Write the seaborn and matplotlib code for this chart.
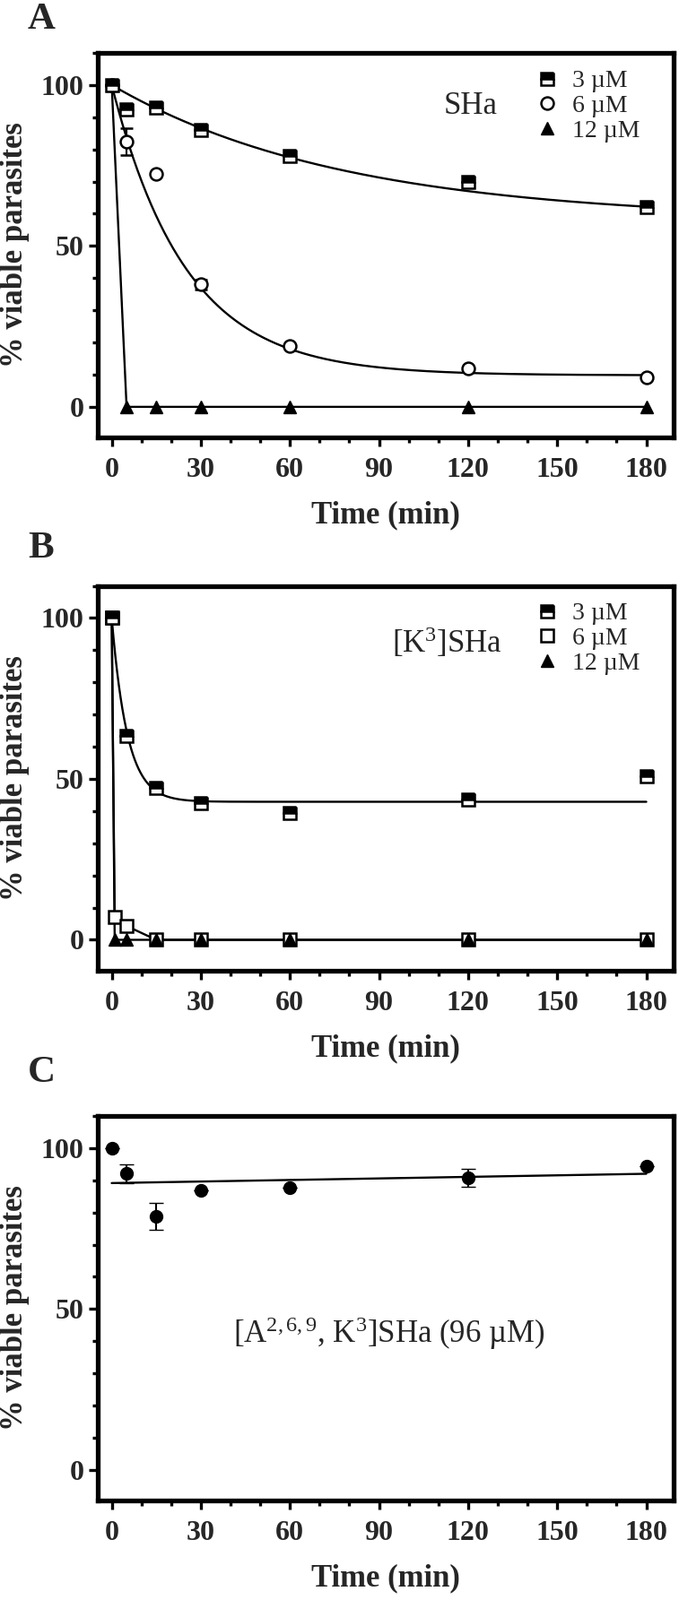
import numpy as np
import pandas as pd
import matplotlib
matplotlib.use('Agg')
import matplotlib.pyplot as plt
import seaborn as sns
from matplotlib.ticker import MultipleLocator, FixedLocator
from matplotlib.lines import Line2D

# ---------------- data ----------------
time_a = [0, 5, 15, 30, 60, 120, 180]
sha_3uM = [100, 92.5, 93, 86, 78, 70, 62]
sha_3uM_err = [0, 1.5, 0, 0, 0, 0, 0]
sha_6uM = [100, 82.5, 72.5, 38, 19, 12, 9.3]
sha_6uM_err = [0, 4.2, 0, 1.6, 0, 0, 0]
sha_12uM = [100, 0, 0, 0, 0, 0, 0]

time_b3 = [0, 5, 15, 30, 60, 120, 180]
k3_3uM = [100, 63.5, 47.3, 42.4, 39.5, 43.5, 50.8]
time_b = [0, 1, 5, 15, 30, 60, 120, 180]
k3_6uM = [100, 7.1, 4.3, 0, 0, 0, 0, 0]
k3_12uM = [100, 0, 0, 0, 0, 0, 0, 0]

time_c = [0, 5, 15, 30, 60, 120, 180]
a269_96uM = [100, 92.1, 78.9, 86.9, 87.6, 90.8, 94.3]
a269_err = [0, 2.9, 4.2, 0, 0, 2.7, 0]

# one-phase decay fits: (plateau, rate constant per min)
fit_sha_3uM = (58.0, 0.0128)
fit_sha_6uM = (9.8, 0.040)
fit_k3_3uM = (42.9, 0.19)

x_ticks = [0, 30, 60, 90, 120, 150, 180]
y_ticks = [0, 50, 100]
legend_labels = ['3 µM', '6 µM', '12 µM']

# ---------------- style ----------------
sns.set_theme(style='ticks')
plt.rcParams['font.family'] = ['Liberation Serif', 'DejaVu Serif']
plt.rcParams['mathtext.fontset'] = 'custom'
plt.rcParams['mathtext.rm'] = 'Liberation Serif'
plt.rcParams['mathtext.it'] = 'Liberation Serif:italic'
plt.rcParams['mathtext.bf'] = 'Liberation Serif:bold'

W, H = 757, 1785
fig = plt.figure(figsize=(W / 100, H / 100), dpi=100)

left = 109 / W
width = (751 - 109) / W
tops = [59, 653.6, 1245]
ax_h = 429 / H
axes = [fig.add_axes([left, 1 - (t + 429) / H, width, ax_h]) for t in tops]

LW_FIT = 1.7
MS = 9.5
MEW = 1.8

half_sq = dict(marker='s', fillstyle='top', markerfacecolor='black',
               markerfacecoloralt='white', markeredgecolor='black',
               markersize=MS, markeredgewidth=MEW)
open_circ = dict(marker='o', markerfacecolor='white', markeredgecolor='black',
                 markersize=MS + 0.5, markeredgewidth=MEW)
open_sq = dict(marker='s', markerfacecolor='white', markeredgecolor='black',
               markersize=MS, markeredgewidth=MEW)
tri = dict(marker='^', markerfacecolor='black', markeredgecolor='black',
           markersize=MS, markeredgewidth=1)
dot = dict(marker='o', markerfacecolor='black', markeredgecolor='black',
           markersize=MS + 0.5, markeredgewidth=1)


def decay(t, p):
    plateau, k = p
    return plateau + (100 - plateau) * np.exp(-k * t)


def style_axes(ax):
    ax.set_xlim(-4.7, 189.2)
    ax.set_ylim(-9.5, 110)
    ax.xaxis.set_major_locator(FixedLocator(x_ticks))
    ax.xaxis.set_minor_locator(MultipleLocator(10))
    ax.yaxis.set_major_locator(FixedLocator(y_ticks))
    ax.yaxis.set_minor_locator(MultipleLocator(10))
    ax.tick_params(which='both', direction='out', width=2.4, color='black',
                   top=False, right=False)
    ax.tick_params(axis='y', which='major', length=7, labelsize=23, pad=4)
    ax.tick_params(axis='x', which='major', length=7, labelsize=23, pad=9)
    ax.tick_params(which='minor', length=4.5)
    for lab in ax.get_xticklabels() + ax.get_yticklabels():
        lab.set_fontweight('bold')
    for s in ax.spines.values():
        s.set_visible(True)
        s.set_linewidth(3.8)
        s.set_color('black')
    ax.set_facecolor('white')
    ax.set_xlabel('Time (min)', fontsize=25, fontweight='bold')
    ax.xaxis.set_label_coords(0.5, -0.165)
    ax.set_ylabel('% viable parasites', fontsize=25, fontweight='bold')
    ax.yaxis.set_label_coords(-0.118, 0.5)


tfit = np.linspace(0, 180, 600)

# ---------------- Panel A ----------------
ax = axes[0]
sns.lineplot(x=tfit, y=decay(tfit, fit_sha_3uM), ax=ax, color='black', lw=LW_FIT, zorder=2)
sns.lineplot(x=tfit, y=decay(tfit, fit_sha_6uM), ax=ax, color='black', lw=LW_FIT, zorder=2)
sns.lineplot(x=time_a, y=sha_12uM, ax=ax, color='black', lw=LW_FIT, zorder=2)
ax.errorbar(time_a, sha_12uM, linestyle='none', zorder=3, **tri)
ax.errorbar(time_a, sha_6uM, yerr=sha_6uM_err, linestyle='none', ecolor='black',
            elinewidth=1.5, capsize=5, capthick=1.5, zorder=3, **open_circ)
ax.errorbar(time_a, sha_3uM, yerr=sha_3uM_err, linestyle='none', ecolor='black',
            elinewidth=1.5, capsize=5, capthick=1.5, zorder=4, **half_sq)
style_axes(ax)
handles = [Line2D([], [], linestyle='none', **half_sq),
           Line2D([], [], linestyle='none', **open_circ),
           Line2D([], [], linestyle='none', **tri)]
ax.legend(handles, legend_labels, loc='upper left', bbox_to_anchor=(0.763, 0.956),
          frameon=False, fontsize=20, handlelength=0.8, handletextpad=0.6,
          labelspacing=0.08, borderaxespad=0, borderpad=0)
ax.text(0.648, 0.862, 'SHa', transform=ax.transAxes, ha='center', va='center', fontsize=25)

# ---------------- Panel B ----------------
ax = axes[1]
sns.lineplot(x=tfit, y=decay(tfit, fit_k3_3uM), ax=ax, color='black', lw=LW_FIT, zorder=2)
sns.lineplot(x=time_b, y=k3_6uM, ax=ax, color='black', lw=LW_FIT, zorder=2)
sns.lineplot(x=time_b, y=k3_12uM, ax=ax, color='black', lw=LW_FIT, zorder=2)
ax.errorbar(time_b, k3_6uM, linestyle='none', zorder=3, **open_sq)
ax.errorbar(time_b, k3_12uM, linestyle='none', zorder=4, **tri)
ax.errorbar(time_b3, k3_3uM, linestyle='none', zorder=5, **half_sq)
style_axes(ax)
handles = [Line2D([], [], linestyle='none', **half_sq),
           Line2D([], [], linestyle='none', **open_sq),
           Line2D([], [], linestyle='none', **tri)]
ax.legend(handles, legend_labels, loc='upper left', bbox_to_anchor=(0.763, 0.957),
          frameon=False, fontsize=20, handlelength=0.8, handletextpad=0.6,
          labelspacing=0.08, borderaxespad=0, borderpad=0)
ax.text(0.606, 0.853, r'[K$^{3}$]SHa', transform=ax.transAxes, ha='center', va='center',
        fontsize=25)

# ---------------- Panel C ----------------
ax = axes[2]
df_c = pd.DataFrame({'time': time_c, 'viable': a269_96uM})
sns.regplot(data=df_c, x='time', y='viable', ax=ax, scatter=False, ci=None,
            truncate=True, color='black', line_kws=dict(lw=LW_FIT, zorder=2))
ax.errorbar(time_c, a269_96uM, yerr=a269_err, linestyle='none', ecolor='black',
            elinewidth=1.5, capsize=5.5, capthick=1.5, zorder=3, **dot)
style_axes(ax)
ax.text(0.505, 0.435, r'[A$^{2,6,9}$, K$^{3}$]SHa (96 µM)', transform=ax.transAxes,
        ha='center', va='center', fontsize=25)

# ---------------- panel letters ----------------
for letter, base in zip(['A', 'B', 'C'], [32, 622, 1207]):
    fig.text(31 / W, 1 - base / H, letter, fontsize=31, fontweight='bold',
             ha='left', va='baseline')

fig.savefig('out.png', dpi=100, facecolor='white')
